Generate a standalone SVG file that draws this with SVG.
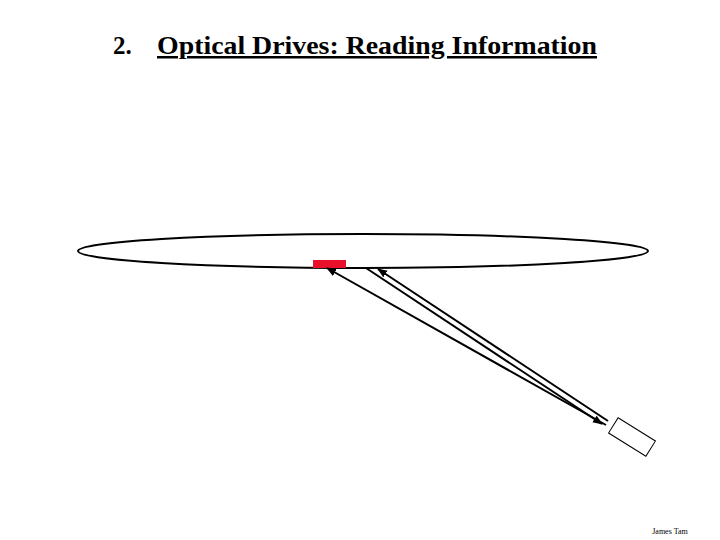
<svg xmlns="http://www.w3.org/2000/svg" width="720" height="540" viewBox="0 0 720 540">
<defs><marker id="a" markerWidth="10" markerHeight="8" refX="9" refY="4" orient="auto" markerUnits="userSpaceOnUse"><path d="M0,0 L10,4 L0,8 Z" fill="#000"/></marker></defs>
<rect width="720" height="540" fill="#fff"/>
<g font-family="Liberation Serif, serif" font-size="25" font-weight="bold">
<text x="113" y="54">2.</text>
<text x="157" y="54" textLength="440" lengthAdjust="spacingAndGlyphs" text-decoration="underline">Optical Drives: Reading Information</text>
</g>
<g id="disc"><ellipse cx="363" cy="251" rx="285" ry="17" fill="#fff" stroke="#000" stroke-width="2"/></g>
<g id="pit"><rect x="313" y="260" width="33" height="8" fill="#e8102a"/></g>
<g id="laser"><rect x="-22" y="-9" width="44" height="18" fill="#fff" stroke="#000" transform="translate(632,437) rotate(32)"/></g>
<g id="connectors" stroke="#000" stroke-width="2" fill="none">
<line x1="606" y1="425" x2="327" y2="268" marker-end="url(#a)"/>
<line x1="366" y1="268" x2="602" y2="424" marker-end="url(#a)"/>
<line x1="608" y1="421" x2="378" y2="269" marker-end="url(#a)"/>
</g>
<text x="670" y="534" text-anchor="middle" font-family="Liberation Serif, serif" font-size="8" fill="#000">James  Tam</text>
</svg>
